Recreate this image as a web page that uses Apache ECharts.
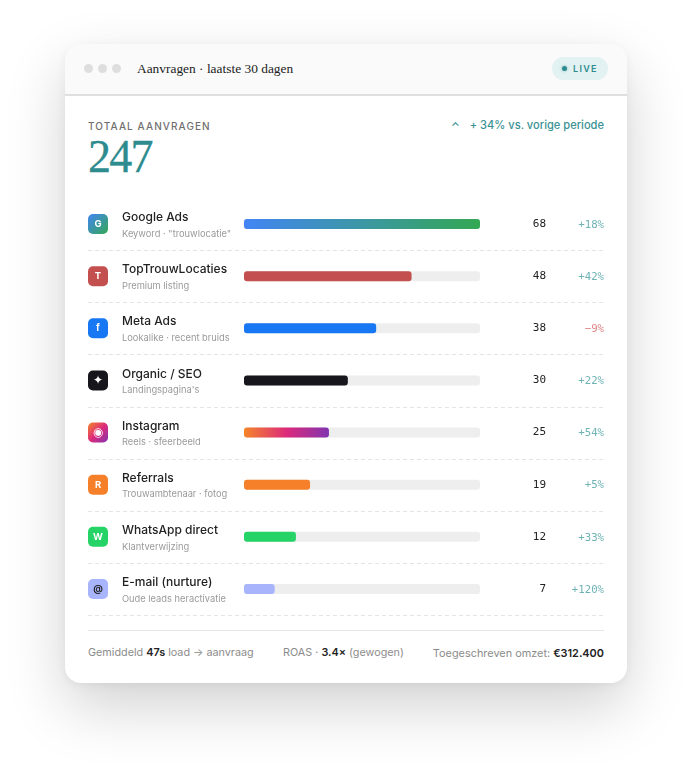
<!DOCTYPE html>
<html>
<head>
<meta charset="utf-8">
<title>Aanvragen</title>
<script src="https://cdn.jsdelivr.net/npm/echarts@6/dist/echarts.min.js"></script>
<style>
	html, body { margin: 0; padding: 0; background: #fff; }
	body { width: 688px; height: 769px; position: relative; overflow: hidden; font-family: Inter, sans-serif; }
	.card { position: absolute; left: 65px; top: 44px; width: 562px; height: 639px; background: #fff; border-radius: 16px; box-shadow: 0 24px 60px rgba(0,0,0,.18), 0 2px 10px rgba(0,0,0,.05); }
	.head { position: absolute; left: 0; top: 0; width: 562px; height: 50px; background: #fafafa; border-radius: 16px 16px 0 0; border-bottom: 2px solid #e0e0e0; }
	.dot { position: absolute; top: 20px; width: 9px; height: 9px; border-radius: 50%; background: #dedede; }
	.title { position: absolute; left: 72px; top: 15px; font: 13.4px/20px "Liberation Serif", serif; color: #222; white-space: nowrap; }
	.live { position: absolute; left: 487px; top: 13px; width: 56px; height: 23px; border-radius: 12px; background: #e2f2f2; }
	.live i { position: absolute; left: 10px; top: 9px; width: 5px; height: 5px; border-radius: 50%; background: #2e8b8e; box-shadow: 0 0 3px rgba(46,139,142,.5); }
	.live span { position: absolute; left: 21px; top: 0; font: 600 9px/23px Inter, sans-serif; letter-spacing: 1.3px; color: #2e8b8e; }
	.lbl { position: absolute; left: 23px; top: 75px; font: 500 10px/14px Inter, sans-serif; letter-spacing: 1.1px; color: #6f6f6f; white-space: nowrap; }
	.big { position: absolute; left: 23px; top: 88px; font: 46px/50px "Liberation Serif", serif; color: #2e8b8e; letter-spacing: -1.8px; -webkit-text-stroke: .3px #2e8b8e; }
	.trend { position: absolute; right: 23px; top: 73px; font: 500 11.1px/16px Inter, sans-serif; color: #3a9295; white-space: nowrap; }
	.trend b { font-weight: 500; margin-right: 7px; position: relative; top: 2px; }
	.rule { position: absolute; left: 23px; top: 586px; width: 516px; height: 1px; background: #e6e6e6; }
	.foot { position: absolute; top: 601px; font: 10.8px/16px Inter, sans-serif; color: #8c8c8c; white-space: nowrap; }
	.foot b { font-weight: 600; color: #222; }
	#chart { position: absolute; left: 88px; top: 198px; width: 516px; height: 420px; }
</style>
</head>
<body>
<div class="card">
	<div class="head">
		<div class="dot" style="left:19px"></div>
		<div class="dot" style="left:33px"></div>
		<div class="dot" style="left:47px"></div>
		<div class="title">Aanvragen · laatste 30 dagen</div>
		<div class="live"><i></i><span>LIVE</span></div>
	</div>
	<div class="lbl">TOTAAL AANVRAGEN</div>
	<div class="big">247</div>
	<div class="trend"><b>⌃</b> + 34% vs. vorige periode</div>
	<div class="rule"></div>
	<div class="foot" style="left:23px">Gemiddeld <b>47s</b> load → aanvraag</div>
	<div class="foot" style="left:218px">ROAS · <b>3.4×</b> (gewogen)</div>
	<div class="foot" style="right:23px;font-size:10.9px">Toegeschreven omzet: <b>€312.400</b></div>
</div>
<div id="chart"></div>
<script type="text/javascript">
	// data
	var channels = ["Google Ads", "TopTrouwLocaties", "Meta Ads", "Organic / SEO", "Instagram", "Referrals", "WhatsApp direct", "E-mail (nurture)"];
	var subtitles = ["Keyword · \"trouwlocatie\"", "Premium listing", "Lookalike · recent bruids", "Landingspagina's", "Reels · sfeerbeeld", "Trouwambtenaar · fotog", "Klantverwijzing", "Oude leads heractivatie"];
	var counts = [68, 48, 38, 30, 25, 19, 12, 7];
	// bar length in % of the track, not quite proportional to the counts in the picture
	var barShare = [100, 71, 56, 44, 36, 28, 22, 13];
	var deltas = ["+18%", "+42%", "−9%", "+22%", "+54%", "+5%", "+33%", "+120%"];
	var glyphs = ["G", "T", "f", "✦", "◉", "R", "W", "@"];

	function grad(x2, y2, stops) {
		return {
			type: 'linear', x: 0, y: 0, x2: x2, y2: y2,
			colorStops: stops.map(function (c, i) { return { offset: i / (stops.length - 1), color: c }; })
		};
	}
	var googleStops = ['#4285f4', '#34a853'];
	var instaStops = ['#f58529', '#dd2a7b', '#8134af'];
	var barColors = [grad(1, 0, googleStops), '#c44f4f', '#1877f2', '#16161c', grad(1, 0, instaStops), '#f58029', '#25d366', '#a8b4fb'];
	var iconColors = [grad(1, 1, googleStops), '#c44f4f', '#1877f2', '#16161c', grad(1, 1, instaStops), '#f58029', '#25d366', '#a8b4fb'];

	var myChart = echarts.init(document.getElementById('chart'), null, { renderer: 'canvas' });

	// icon, count, delta and dashed separator for one row
	function renderRow(params, api) {
		var i = api.value(1);
		var y = api.coord([0, i])[1];
		var band = api.size([0, 1])[1];
		var d = deltas[i];
		var down = d.charAt(0) !== '+';
		var lineY = Math.round(y + band / 2) + 0.5;
		// the sparkle and the camera glyph are drawn larger than the letters
		var glyphSize = (i === 3 || i === 4) ? 12 : 9.5;
		return {
			type: 'group',
			children: [
				{ type: 'rect', shape: { x: 0, y: y - 10, width: 20, height: 20, r: 5 }, style: { fill: iconColors[i] } },
				{ type: 'text', style: { x: 10, y: y, text: glyphs[i], fill: i === 7 ? '#222' : '#fff', font: '700 ' + glyphSize + 'px Inter, "DejaVu Sans", sans-serif', align: 'center', verticalAlign: 'middle' } },
				{ type: 'text', style: { x: 458, y: y, text: String(counts[i]), fill: '#222', font: '11px "DejaVu Sans Mono", monospace', align: 'right', verticalAlign: 'middle' } },
				{ type: 'text', style: { x: 516, y: y + 1, text: d, fill: down ? '#e08585' : '#6fb3b5', font: '10.7px "DejaVu Sans Mono", monospace', align: 'right', verticalAlign: 'middle' } },
				{ type: 'line', shape: { x1: 0, y1: lineY, x2: 516, y2: lineY }, style: { stroke: '#e4e4e4', lineWidth: 1, lineDash: [4, 3] } }
			]
		};
	}

	myChart.setOption({
		animation: false,
		grid: { left: 156, right: 124, top: 0, height: 417 },
		xAxis: { type: 'value', min: 0, max: 100, show: false },
		yAxis: {
			type: 'category',
			inverse: true,
			data: channels,
			axisLine: { show: false },
			axisTick: { show: false },
			axisLabel: {
				align: 'left',
				margin: 122,
				padding: [3, 0, 0, 0],
				formatter: function (value, index) {
					return '{name|' + value + '}\n{sub|' + subtitles[index] + '}';
				},
				rich: {
					name: { fontFamily: 'Inter, sans-serif', fontSize: 12, fontWeight: 500, color: '#222', lineHeight: 17 },
					sub: { fontFamily: 'Inter, sans-serif', fontSize: 9.3, color: '#9a9a9a', lineHeight: 16 }
				}
			}
		},
		series: [{
			type: 'bar',
			barWidth: 10,
			showBackground: true,
			backgroundStyle: { color: '#eeeeee', borderRadius: 3 },
			itemStyle: { borderRadius: 3 },
			data: barShare.map(function (v, i) { return { value: v, itemStyle: { color: barColors[i] } }; }),
			z: 2
		}, {
			type: 'custom',
			coordinateSystem: 'cartesian2d',
			clip: false,
			renderItem: renderRow,
			data: counts.map(function (v, i) { return [v, i]; }),
			encode: { x: 0, y: 1 },
			z: 3
		}]
	});
</script>
</body>
</html>
